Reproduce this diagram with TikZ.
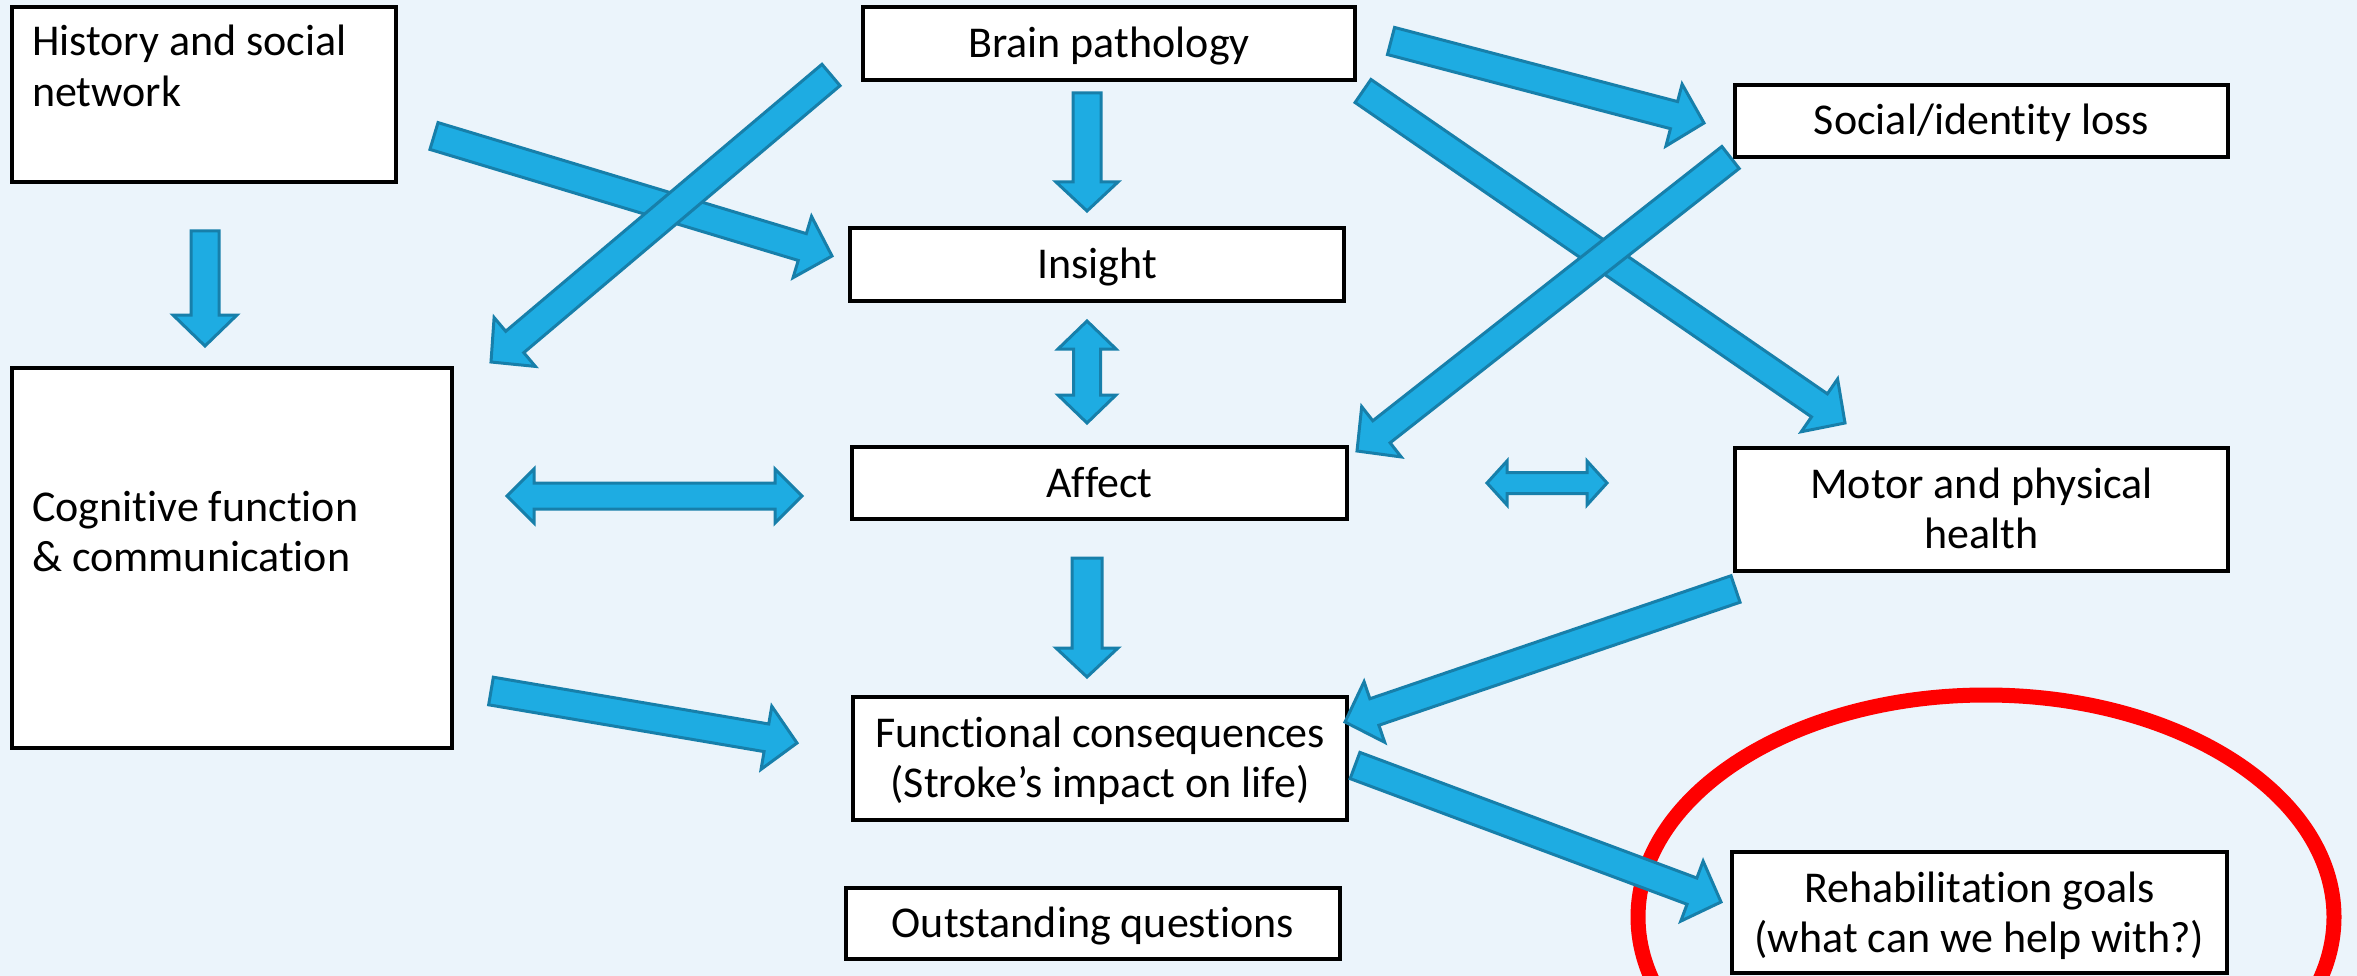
\documentclass[tikz,border=0pt]{standalone}
\usepackage{fontspec}
\setmainfont{Carlito}[Ligatures=NoCommon]
\usetikzlibrary{calc,shapes.geometric}

\definecolor{bgblue}{RGB}{235,244,251}
\definecolor{arrowfill}{RGB}{30,172,226}
\definecolor{arrowline}{RGB}{23,127,170}
\definecolor{ringred}{RGB}{255,0,0}

% block arrow: #1 tail, #2 tip, #3 half shaft width, #4 half head width, #5 head length
\newcommand\blockarrow[5]{%
  \path[fatarrow] let \p1=(#1), \p2=(#2),
      \n1={atan2(\y2-\y1,\x2-\x1)}, \n2={veclen(\x2-\x1,\y2-\y1)} in
    ($(\p1)+({\n1+90}:{#3})$)
    -- ($(\p1)+({\n1}:{\n2-#5})+({\n1+90}:{#3})$)
    -- ($(\p1)+({\n1}:{\n2-#5})+({\n1+90}:{#4})$)
    -- (\p2)
    -- ($(\p1)+({\n1}:{\n2-#5})+({\n1-90}:{#4})$)
    -- ($(\p1)+({\n1}:{\n2-#5})+({\n1-90}:{#3})$)
    -- ($(\p1)+({\n1-90}:{#3})$) -- cycle;}

% double-headed block arrow, same arguments
\newcommand\twowayarrow[5]{%
  \path[fatarrow] let \p1=(#1), \p2=(#2),
      \n1={atan2(\y2-\y1,\x2-\x1)}, \n2={veclen(\x2-\x1,\y2-\y1)} in
    (\p1)
    -- ($(\p1)+({\n1}:{#5})+({\n1+90}:{#4})$)
    -- ($(\p1)+({\n1}:{#5})+({\n1+90}:{#3})$)
    -- ($(\p1)+({\n1}:{\n2-#5})+({\n1+90}:{#3})$)
    -- ($(\p1)+({\n1}:{\n2-#5})+({\n1+90}:{#4})$)
    -- (\p2)
    -- ($(\p1)+({\n1}:{\n2-#5})+({\n1-90}:{#4})$)
    -- ($(\p1)+({\n1}:{\n2-#5})+({\n1-90}:{#3})$)
    -- ($(\p1)+({\n1}:{#5})+({\n1-90}:{#3})$)
    -- ($(\p1)+({\n1}:{#5})+({\n1-90}:{#4})$)
    -- cycle;}

\begin{document}
\begin{tikzpicture}[x=1pt,y=1pt,
  diagbox/.style={draw=black, line width=4pt, fill=white, inner sep=0pt},
  boxtext/.style={inner sep=0pt, font=\fontsize{44}{50.5}\selectfont, text=black},
  fatarrow/.style={draw=arrowline, fill=arrowfill, line width=3pt, line join=miter}]

\useasboundingbox (0,0) rectangle (2357,-976);
\clip (0,0) rectangle (2357,-976);
\fill[bgblue] (0,0) rectangle (2357,-976);

% boxes
\node[diagbox, minimum width=384, minimum height=175] (history)     at (204,-94.5)    {};
\node[diagbox, minimum width=492, minimum height=73]  (brain)       at (1109,-43.5)   {};
\node[diagbox, minimum width=493, minimum height=72]  (social)      at (1981.5,-121)  {};
\node[diagbox, minimum width=494, minimum height=73]  (insight)     at (1097,-264.5)  {};
\node[diagbox, minimum width=440, minimum height=380] (cognitive)   at (232,-558)     {};
\node[diagbox, minimum width=495, minimum height=72]  (affect)      at (1099.5,-483)  {};
\node[diagbox, minimum width=493, minimum height=123] (motor)       at (1981.5,-509.5){};
\node[diagbox, minimum width=494, minimum height=123] (functional)  at (1100,-758.5)  {};
\node[diagbox, minimum width=494, minimum height=71]  (outstanding) at (1093,-923.5)  {};
\node[diagbox, minimum width=495, minimum height=121] (rehab)       at (1979.5,-912.5){};

% box texts
\node[boxtext, anchor=base west] (history-t) at (32,-56)
  {\begin{tabular}[t]{@{}l@{}}History and social\\network\end{tabular}};
\node[boxtext, anchor=base] (brain-t)   at (1109,-58)    {Brain pathology};
\node[boxtext, anchor=base] (social-t)  at (1981.5,-135) {Social/identity loss};
\node[boxtext, anchor=base] (insight-t) at (1097,-278.5) {Insight};
\node[boxtext, anchor=base west] (cognitive-t) at (32,-521)
  {\begin{tabular}[t]{@{}l@{}}Cognitive function\\\& communication\end{tabular}};
\node[boxtext, anchor=base] (affect-t)  at (1099.5,-497) {Affect};
\node[boxtext, anchor=base] (motor-t)   at (1981.5,-498)
  {\begin{tabular}[t]{@{}c@{}}Motor and physical\\health\end{tabular}};
\node[boxtext, anchor=base] (functional-t) at (1100,-747)
  {\begin{tabular}[t]{@{}c@{}}Functional consequences\\(Stroke’s impact on life)\end{tabular}};
\node[boxtext, anchor=base] (outstanding-t) at (1093,-937) {Outstanding questions};
\node[boxtext, anchor=base] (rehab-t)   at (1979.5,-902)
  {\begin{tabular}[t]{@{}c@{}}Rehabilitation goals\\(what can we help with?)\end{tabular}};

% highlight ring round the goals
\node[ellipse, draw=ringred, line width=15pt, inner sep=0pt,
      minimum width=696, minimum height=444] (focus) at (1986,-917) {};

% arrow end points
\coordinate (hc-s) at (205,-231);    \coordinate (hc-e) at (205,-346);
\coordinate (hi-s) at (434,-136);    \coordinate (hi-e) at (832,-256);
\coordinate (bc-s) at (831,-75);     \coordinate (bc-e) at (491,-362);
\coordinate (bi-s) at (1087,-93);    \coordinate (bi-e) at (1087,-211);
\coordinate (bs-s) at (1391,-41);    \coordinate (bs-e) at (1704,-123);
\coordinate (bm-s) at (1363,-91);    \coordinate (bm-e) at (1845,-423);
\coordinate (sa-s) at (1730.5,-157.5); \coordinate (sa-e) at (1357,-451);
\coordinate (ia-s) at (1087,-321);   \coordinate (ia-e) at (1087,-423);
\coordinate (ca-s) at (507,-496);    \coordinate (ca-e) at (802,-496);
\coordinate (am-s) at (1487,-483);   \coordinate (am-e) at (1607,-483);
\coordinate (af-s) at (1087,-558);   \coordinate (af-e) at (1087,-677);
\coordinate (cf-s) at (491,-691);    \coordinate (cf-e) at (797,-743);
\coordinate (mf-s) at (1735.5,-589); \coordinate (mf-e) at (1345,-722);
\coordinate (fr-s) at (1355,-765.5); \coordinate (fr-e) at (1721,-902);

% arrows
\blockarrow{hc-s}{hc-e}{14}{32}{31}
\blockarrow{hi-s}{hi-e}{14}{32}{31}
\blockarrow{bc-s}{bc-e}{14}{32}{31}
\blockarrow{bi-s}{bi-e}{14}{31}{29}
\blockarrow{bs-s}{bs-e}{14}{32}{31}
\blockarrow{bm-s}{bm-e}{14}{32}{31}
\blockarrow{sa-s}{sa-e}{14}{32}{31}
\twowayarrow{ia-s}{ia-e}{13.5}{29}{28}
\twowayarrow{ca-s}{ca-e}{13}{27}{27}
\twowayarrow{am-s}{am-e}{10.5}{22}{20}
\blockarrow{af-s}{af-e}{15}{31}{29}
\blockarrow{cf-s}{cf-e}{14}{32}{31}
\blockarrow{mf-s}{mf-e}{14}{32}{31}
\blockarrow{fr-s}{fr-e}{14}{32}{31}

\end{tikzpicture}
\end{document}
